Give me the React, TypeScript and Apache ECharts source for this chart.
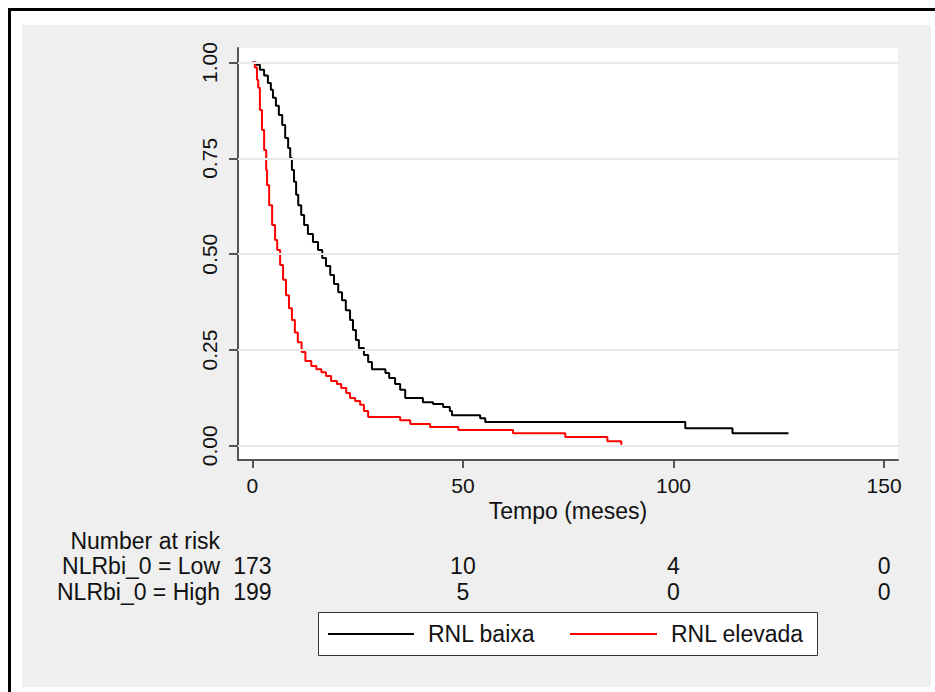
import React, { useEffect, useRef } from "react";
import * as echarts from "echarts";

// Kaplan-Meier estimates (time in months, survival)
const lowTime = [0, 0.9, 1.8, 2.8, 3.7, 4.4, 4.9, 5.6, 6.3, 7.1, 7.8, 8.5, 9.0, 9.4, 9.9, 10.4, 10.9, 11.6, 12.3, 13.2, 14.4, 15.6, 16.6, 17.5, 18.5, 19.4, 20.4, 21.3, 22.2, 23.2, 23.9, 24.6, 25.3, 26.5, 27.5, 28.4, 31.6, 32.5, 33.9, 35.1, 36.3, 40.5, 42.9, 45.3, 46.9, 47.4, 54.1, 55.3, 102.8, 114.0, 127.3];
const lowSurv = [1.0, 0.994, 0.981, 0.966, 0.947, 0.929, 0.908, 0.887, 0.863, 0.837, 0.803, 0.777, 0.751, 0.72, 0.689, 0.655, 0.628, 0.602, 0.576, 0.553, 0.532, 0.511, 0.49, 0.469, 0.446, 0.422, 0.401, 0.38, 0.354, 0.328, 0.302, 0.276, 0.255, 0.237, 0.219, 0.2, 0.19, 0.177, 0.161, 0.146, 0.125, 0.114, 0.109, 0.101, 0.091, 0.08, 0.072, 0.062, 0.046, 0.033, 0.033];

const highTime = [0, 0.6, 1.1, 1.4, 1.8, 2.3, 2.8, 3.3, 3.5, 4.0, 4.7, 5.4, 5.9, 6.6, 7.3, 8.0, 8.7, 9.4, 10.1, 10.8, 11.7, 12.6, 14.0, 15.2, 16.4, 17.5, 18.7, 20.1, 21.1, 22.3, 23.2, 24.4, 25.6, 26.5, 27.5, 35.1, 37.5, 42.2, 48.9, 61.9, 74.3, 84.3, 87.6];
const highSurv = [1.0, 0.987, 0.955, 0.934, 0.876, 0.824, 0.772, 0.72, 0.68, 0.628, 0.576, 0.537, 0.511, 0.472, 0.433, 0.393, 0.359, 0.328, 0.296, 0.27, 0.245, 0.221, 0.208, 0.2, 0.192, 0.182, 0.169, 0.161, 0.151, 0.138, 0.125, 0.117, 0.107, 0.091, 0.075, 0.067, 0.057, 0.049, 0.041, 0.033, 0.023, 0.012, 0.003];

const xTicks = [0, 50, 100, 150];
const yTicks = [0, 0.25, 0.5, 0.75, 1];

const riskTimes = [0, 50, 100, 150];
const riskLow = [173, 10, 4, 0];
const riskHigh = [199, 5, 0, 0];
const riskLabels = ["NLRbi_0 = Low", "NLRbi_0 = High"];
const riskTitle = "Number at risk";
const xTitle = "Tempo (meses)";
const seriesNames = ["RNL baixa", "RNL elevada"];
const seriesColors = ["#000000", "#ff0000"];

const FONT = "'Liberation Sans', Arial, Helvetica, sans-serif";

export default function App() {
  const ref = useRef<HTMLDivElement>(null);

  useEffect(() => {
    if (!ref.current) return;
    const chart = echarts.init(ref.current, null, { renderer: "svg" });
    const axisColor = "#555555";
    const option: any = {
      animation: false,
      textStyle: { fontFamily: FONT },
      grid: {
        left: 238,
        right: 37,
        top: 48,
        bottom: 232,
        show: true,
        backgroundColor: "#ffffff",
        borderWidth: 0,
      },
      xAxis: {
        type: "value",
        min: -3.4,
        max: 153.3,
        axisLine: { show: true, onZero: false, lineStyle: { color: axisColor, width: 2 } },
        axisTick: { show: true, length: 8, customValues: xTicks, lineStyle: { color: axisColor, width: 2 } },
        axisLabel: { customValues: xTicks, fontSize: 21, color: "#111", margin: 15, fontFamily: FONT },
        splitLine: { show: false },
      },
      yAxis: {
        type: "value",
        min: -0.037,
        max: 1.038,
        axisLine: { show: true, onZero: false, lineStyle: { color: axisColor, width: 2 } },
        axisTick: { show: true, length: 9, customValues: yTicks, lineStyle: { color: axisColor, width: 2 } },
        axisLabel: {
          customValues: yTicks,
          rotate: 90,
          fontSize: 21,
          color: "#111",
          margin: 18,
          fontFamily: FONT,
          formatter: (v: number) => v.toFixed(2),
        },
        splitLine: { show: false },
      },
      series: [
        {
          type: "line",
          name: "__grid",
          data: [[0, 0]],
          symbol: "none",
          lineStyle: { opacity: 0 },
          silent: true,
          z: 1,
          markLine: {
            silent: true,
            symbol: "none",
            label: { show: false },
            lineStyle: { color: "#e9e9e9", width: 2, type: "solid" },
            data: yTicks.map((v) => ({ yAxis: v })),
          },
        },
        {
          type: "line",
          name: seriesNames[0],
          step: "end",
          data: lowTime.map((t, i) => [t, lowSurv[i]]),
          symbol: "none",
          showSymbol: false,
          lineStyle: { color: seriesColors[0], width: 2 },
          itemStyle: { color: seriesColors[0] },
          z: 3,
        },
        {
          type: "line",
          name: seriesNames[1],
          step: "end",
          data: highTime.map((t, i) => [t, highSurv[i]]),
          symbol: "none",
          showSymbol: false,
          lineStyle: { color: seriesColors[1], width: 2 },
          itemStyle: { color: seriesColors[1] },
          z: 4,
        },
      ],
    };
    chart.setOption(option);

    const px = (t: number) => chart.convertToPixel({ xAxisIndex: 0 }, t) as number;
    const xMid = (px(-3.4) + px(153.3)) / 2;
    const rowY = [566, 592];
    const labelRight = 220;
    const graphics: any[] = [];

    graphics.push({
      type: "text",
      x: xMid,
      y: 511,
      style: { text: xTitle, fontSize: 23, fontFamily: FONT, fill: "#111", textAlign: "center", textVerticalAlign: "middle" },
    });
    graphics.push({
      type: "text",
      x: labelRight,
      y: 541,
      style: { text: riskTitle, fontSize: 23, fontFamily: FONT, fill: "#111", textAlign: "right", textVerticalAlign: "middle" },
    });
    [riskLow, riskHigh].forEach((row, r) => {
      graphics.push({
        type: "text",
        x: labelRight,
        y: rowY[r],
        style: { text: riskLabels[r], fontSize: 23, fontFamily: FONT, fill: "#111", textAlign: "right", textVerticalAlign: "middle" },
      });
      row.forEach((n, i) => {
        graphics.push({
          type: "text",
          x: px(riskTimes[i]),
          y: rowY[r],
          style: { text: String(n), fontSize: 23, fontFamily: FONT, fill: "#111", textAlign: "center", textVerticalAlign: "middle" },
        });
      });
    });

    // legend box
    const legY = 634;
    graphics.push({
      type: "rect",
      shape: { x: 318.5, y: 612.5, width: 499, height: 43 },
      style: { fill: "#ffffff", stroke: "#333333", lineWidth: 1 },
    });
    const legItems = [
      { x1: 328, x2: 414, tx: 428 },
      { x1: 570, x2: 657, tx: 671 },
    ];
    legItems.forEach((it, i) => {
      graphics.push({
        type: "line",
        shape: { x1: it.x1, y1: legY, x2: it.x2, y2: legY },
        style: { stroke: seriesColors[i], lineWidth: 2 },
      });
      graphics.push({
        type: "text",
        x: it.tx,
        y: legY,
        style: { text: seriesNames[i], fontSize: 23, fontFamily: FONT, fill: "#111", textAlign: "left", textVerticalAlign: "middle" },
      });
    });

    chart.setOption({ graphic: graphics });

    return () => chart.dispose();
  }, []);

  return (
    <div style={{ position: "fixed", left: 0, top: 0, width: 935, height: 692, background: "#ffffff" }}>
      <div style={{ position: "absolute", left: 8, top: 8, width: 927, height: 2.5, background: "#000" }} />
      <div style={{ position: "absolute", left: 8, top: 8, width: 2.5, height: 684, background: "#000" }} />
      <div style={{ position: "absolute", left: 22, top: 25, width: 909, height: 662, background: "#efefef" }} />
      <div ref={ref} style={{ position: "absolute", left: 0, top: 0, width: 935, height: 692 }} />
    </div>
  );
}
